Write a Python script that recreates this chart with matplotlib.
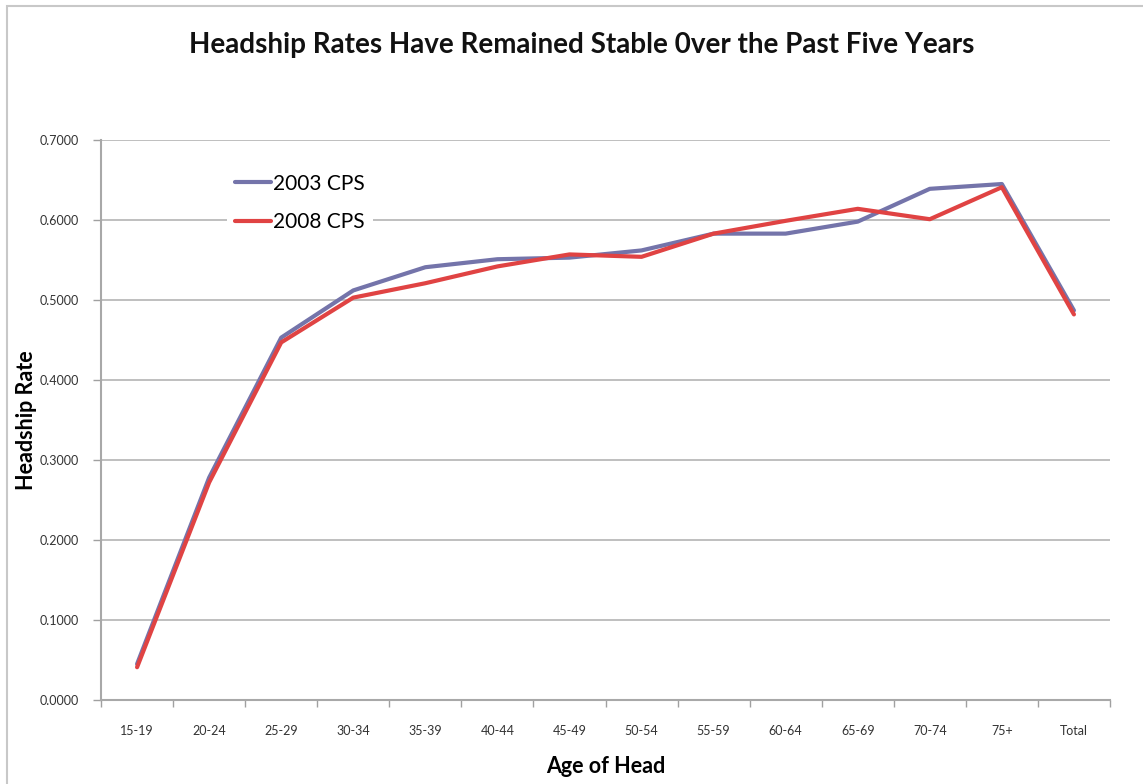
import matplotlib
matplotlib.use("Agg")
import matplotlib.pyplot as plt
from matplotlib.patches import Rectangle
import numpy as np

age_groups = ["15-19", "20-24", "25-29", "30-34", "35-39", "40-44", "45-49",
              "50-54", "55-59", "60-64", "65-69", "70-74", "75+", "Total"]
cps_2003 = [0.045, 0.278, 0.453, 0.512, 0.541, 0.551, 0.553,
            0.562, 0.583, 0.583, 0.598, 0.639, 0.645, 0.487]
cps_2008 = [0.041, 0.272, 0.447, 0.503, 0.521, 0.542, 0.557,
            0.554, 0.583, 0.599, 0.614, 0.601, 0.641, 0.482]
y_ticks = [0.0, 0.1, 0.2, 0.3, 0.4, 0.5, 0.6, 0.7]

plt.rcParams['font.family'] = ['Lato', 'DejaVu Sans']

fig = plt.figure(figsize=(11.43, 7.84), dpi=100)
fig.patches.append(Rectangle((0.006, -0.05), 1.2, 1.042, transform=fig.transFigure,
                             fill=False, edgecolor="#c8c8c8", linewidth=1.5))

ax = fig.add_axes([0.0884, 0.1071, 0.8827, 0.7143])
x = np.arange(len(age_groups))
ax.plot(x, cps_2003, color="#7474AA", linewidth=3.0, label="2003 CPS",
        solid_capstyle="round", solid_joinstyle="round", zorder=3)
ax.plot(x, cps_2008, color="#E04343", linewidth=3.0, label="2008 CPS",
        solid_capstyle="round", solid_joinstyle="round", zorder=4)

ax.set_xlim(-0.5, len(age_groups) - 0.5)
ax.set_ylim(0, 0.7)
ax.set_yticks(y_ticks)
ax.set_yticklabels([f"{v:.4f}" for v in y_ticks], fontsize=9, color="#333333")
ax.set_xticks(x)
ax.set_xticklabels(age_groups, fontsize=9, color="#333333")
ax.tick_params(axis="x", which="major", length=0, pad=18)
ax.set_xticks(np.arange(-0.5, len(age_groups)), minor=True)
ax.tick_params(axis="x", which="minor", length=5, color="#a0a0a0", width=1)
ax.tick_params(axis="y", length=6, color="#a0a0a0", width=1, pad=10)

ax.grid(axis="y", color="#b4b4b4", linewidth=1.2)
ax.set_axisbelow(True)
for side in ("top", "right"):
    ax.spines[side].set_visible(False)
for side in ("left", "bottom"):
    ax.spines[side].set_color("#a8a8a8")
    ax.spines[side].set_linewidth(1.5)

ax.set_xlabel("Age of Head", fontsize=15.5, fontweight="bold", labelpad=14)
ax.set_ylabel("Headship Rate", fontsize=15.5, fontweight="bold")
ax.yaxis.set_label_coords(-0.063, 0.5)
fig.text(0.509, 0.942, "Headship Rates Have Remained Stable 0ver the Past Five Years",
         ha="center", va="center", fontsize=20, fontweight="bold", color="#111111")

leg = ax.legend(loc="upper left", bbox_to_anchor=(0.125, 0.955), frameon=True,
                fontsize=15, handlelength=1.7, handletextpad=0.1,
                labelspacing=0.9, borderaxespad=0)
leg.get_frame().set_edgecolor("none")
leg.get_frame().set_facecolor("white")
leg.get_frame().set_alpha(1)

fig.savefig("out.png", dpi=100)
